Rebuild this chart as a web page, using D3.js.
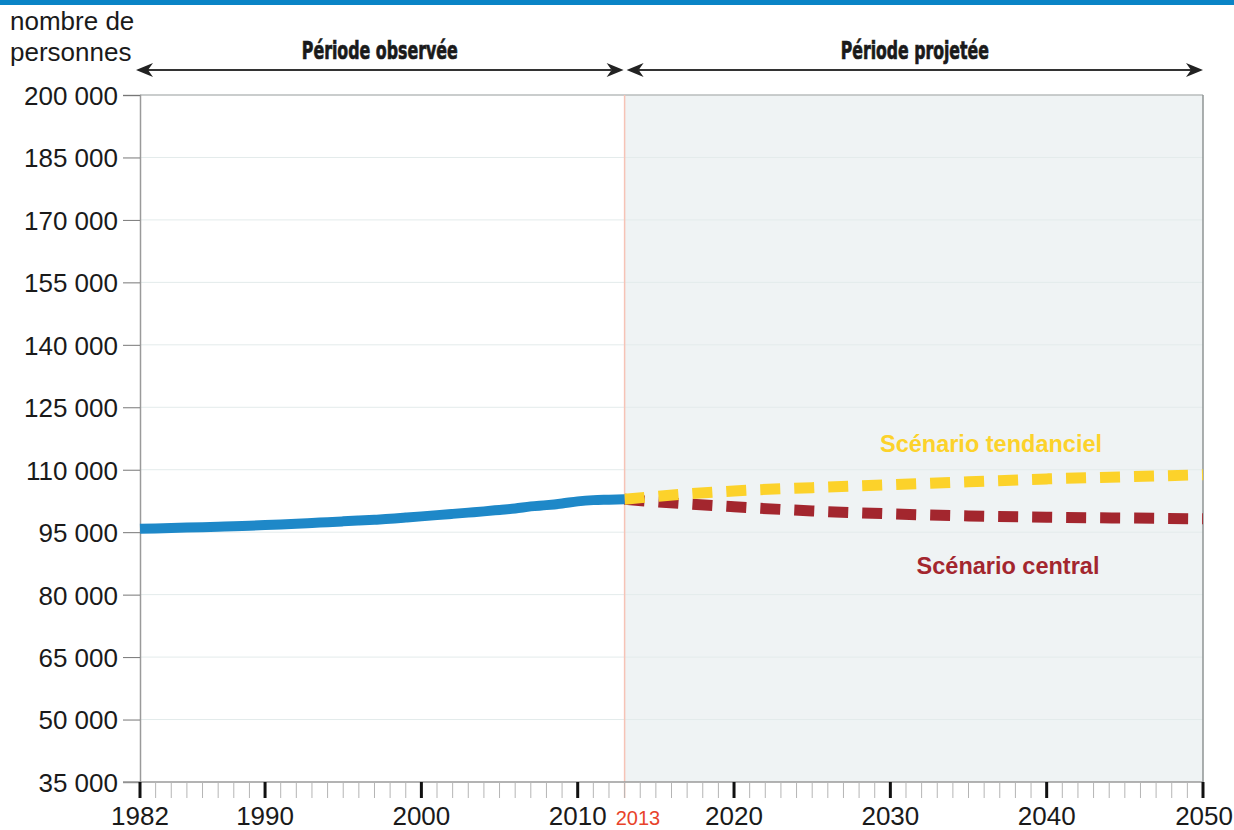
<!DOCTYPE html>
<html lang="fr">
<head>
<meta charset="UTF-8">
<title>Projection population</title>
<style>
  body { margin: 0; background: #fff; }
  text { font-family: "Liberation Sans", Arial, sans-serif; }
  .head { font-family: "DejaVu Sans Condensed", "DejaVu Sans", sans-serif; font-weight: bold; font-size: 25px; fill: #1a1a1a; stroke: #1a1a1a; stroke-width: 0.7px; }
</style>
</head>
<body>
<svg width="1234" height="830"></svg>
<script src="https://d3js.org/d3.v7.min.js"></script>
<script>
// observed population, 1982-2013
const obsYears = d3.range(1982, 2014);
const obsValues = [95800, 95900, 96000, 96100, 96200, 96300, 96400, 96550, 96700, 96850,
                   97000, 97200, 97400, 97600, 97800, 98000, 98200, 98500, 98800, 99100,
                   99400, 99700, 100000, 100350, 100700, 101200, 101500, 101900, 102400, 102700,
                   102800, 102900];
// projections
const projYears = [2013, 2015, 2020, 2025, 2030, 2035, 2040, 2045, 2050];
const tendanciel = [102900, 103600, 104900, 105700, 106400, 107100, 107800, 108300, 108800];
const central = [102900, 102300, 101100, 100100, 99400, 98900, 98600, 98400, 98200];

const yTicks = d3.range(35000, 200001, 15000);
const xMajor = [1982, 1990, 2000, 2010, 2020, 2030, 2040, 2050];

const svg = d3.select("svg");
const pLeft = 140, pRight = 1203, pTop = 95, pBottom = 782;

const x = d3.scaleLinear().domain([1982, 2050]).range([pLeft, pRight]);
const y = d3.scaleLinear().domain([35000, 200000]).range([pBottom, pTop]);

// top band
svg.append("rect").attr("x", 0).attr("y", 0).attr("width", 1234).attr("height", 5).attr("fill", "#0a84c6");

// projected zone
svg.append("rect").attr("x", x(2013)).attr("y", pTop)
  .attr("width", x(2050) - x(2013)).attr("height", pBottom - pTop).attr("fill", "#eff3f4");

// grid lines
svg.append("g").selectAll("line").data(yTicks.slice(1, -1)).enter().append("line")
  .attr("x1", pLeft).attr("x2", pRight)
  .attr("y1", d => y(d)).attr("y2", d => y(d))
  .attr("stroke", "#e3ebeb").attr("stroke-width", 1);

// top and right borders
svg.append("line").attr("x1", pLeft).attr("x2", pRight).attr("y1", pTop).attr("y2", pTop)
  .attr("stroke", "#b9bdbd").attr("stroke-width", 1.5);
svg.append("line").attr("x1", pRight).attr("x2", pRight).attr("y1", pTop).attr("y2", pBottom)
  .attr("stroke", "#8f9595").attr("stroke-width", 1.5);

// 2013 separator
svg.append("line").attr("x1", x(2013)).attr("x2", x(2013)).attr("y1", pTop).attr("y2", pBottom + 16)
  .attr("stroke", "#f6c3b6").attr("stroke-width", 1.5);

// y axis
const yAxis = d3.axisLeft(y).tickValues(yTicks).tickSize(17).tickPadding(5)
  .tickFormat(d => d3.format(",")(d).replace(",", " "));
const gy = svg.append("g").attr("transform", `translate(${pLeft},0)`).call(yAxis);
gy.select(".domain").attr("stroke", "#9a9a9a").attr("stroke-width", 1.5);
gy.selectAll(".tick line").attr("stroke", "#777").attr("stroke-width", 1);
gy.selectAll(".tick text").attr("font-size", 26).attr("fill", "#1a1a1a")
  .attr("font-family", "Liberation Sans, Arial, sans-serif").attr("dy", "0.36em");

// x axis
svg.append("line").attr("x1", pLeft - 17).attr("x2", pRight).attr("y1", pBottom).attr("y2", pBottom)
  .attr("stroke", "#9a9a9a").attr("stroke-width", 1.5);
svg.append("g").selectAll("line").data(d3.range(1982, 2051).filter(d => !xMajor.includes(d))).enter()
  .append("line")
  .attr("x1", d => x(d)).attr("x2", d => x(d)).attr("y1", pBottom).attr("y2", pBottom + 16)
  .attr("stroke", "#b5b5b5").attr("stroke-width", 1);
svg.append("g").selectAll("line").data(xMajor).enter().append("line")
  .attr("x1", d => x(d)).attr("x2", d => x(d)).attr("y1", pBottom).attr("y2", pBottom + 16)
  .attr("stroke", "#111").attr("stroke-width", 3);
svg.append("g").selectAll("text").data(xMajor).enter().append("text")
  .attr("x", d => d === 2050 ? 1233 : x(d)).attr("y", 825)
  .attr("text-anchor", d => d === 2050 ? "end" : "middle")
  .attr("font-size", 26).attr("fill", "#1a1a1a").text(d => d);
svg.append("text").attr("x", 638).attr("y", 825)
  .attr("text-anchor", "middle").attr("font-size", 20).attr("fill", "#e8432a").text("2013");

// unit label
svg.append("text").attr("x", 10).attr("y", 30).attr("font-size", 26).attr("fill", "#1a1a1a").text("nombre de");
svg.append("text").attr("x", 10).attr("y", 61).attr("font-size", 26).attr("fill", "#1a1a1a").text("personnes");

// period arrows
function arrow(x1, x2, label, width) {
  const yy = 70;
  svg.append("line").attr("x1", x1 + 12).attr("x2", x2 - 12).attr("y1", yy).attr("y2", yy)
    .attr("stroke", "#333").attr("stroke-width", 2);
  svg.append("path").attr("d", `M${x1},${yy} L${x1 + 17},${yy - 7} L${x1 + 12},${yy} L${x1 + 17},${yy + 7} Z`).attr("fill", "#222");
  svg.append("path").attr("d", `M${x2},${yy} L${x2 - 17},${yy - 7} L${x2 - 12},${yy} L${x2 - 17},${yy + 7} Z`).attr("fill", "#222");
  svg.append("text").attr("class", "head").attr("x", (x1 + x2) / 2).attr("y", 59)
    .attr("text-anchor", "middle")
    .attr("textLength", width).attr("lengthAdjust", "spacingAndGlyphs").text(label);
}
arrow(136, x(2013) - 1, "Période observée", 156);
arrow(x(2013) + 2, 1203, "Période projetée", 148);

// lines
const line = d3.line().x(d => x(d[0])).y(d => y(d[1])).curve(d3.curveMonotoneX);
svg.append("path").datum(projYears.map((d, i) => [d, central[i]]))
  .attr("d", line).attr("fill", "none").attr("stroke", "#a3262e")
  .attr("stroke-width", 11).attr("stroke-dasharray", "20 14");
svg.append("path").datum(projYears.map((d, i) => [d, tendanciel[i]]))
  .attr("d", line).attr("fill", "none").attr("stroke", "#fcd22a")
  .attr("stroke-width", 11).attr("stroke-dasharray", "20 14");
svg.append("path").datum(obsYears.map((d, i) => [d, obsValues[i]]))
  .attr("d", line).attr("fill", "none").attr("stroke", "#1e88c8")
  .attr("stroke-width", 10);

// scenario labels
svg.append("text").attr("x", 991).attr("y", 452).attr("text-anchor", "middle")
  .attr("font-size", 23.5).attr("font-weight", "bold").attr("fill", "#fcd22a").text("Scénario tendanciel");
svg.append("text").attr("x", 1008).attr("y", 574).attr("text-anchor", "middle")
  .attr("font-size", 23.5).attr("font-weight", "bold").attr("fill", "#a3262e").text("Scénario central");
</script>
</body>
</html>
